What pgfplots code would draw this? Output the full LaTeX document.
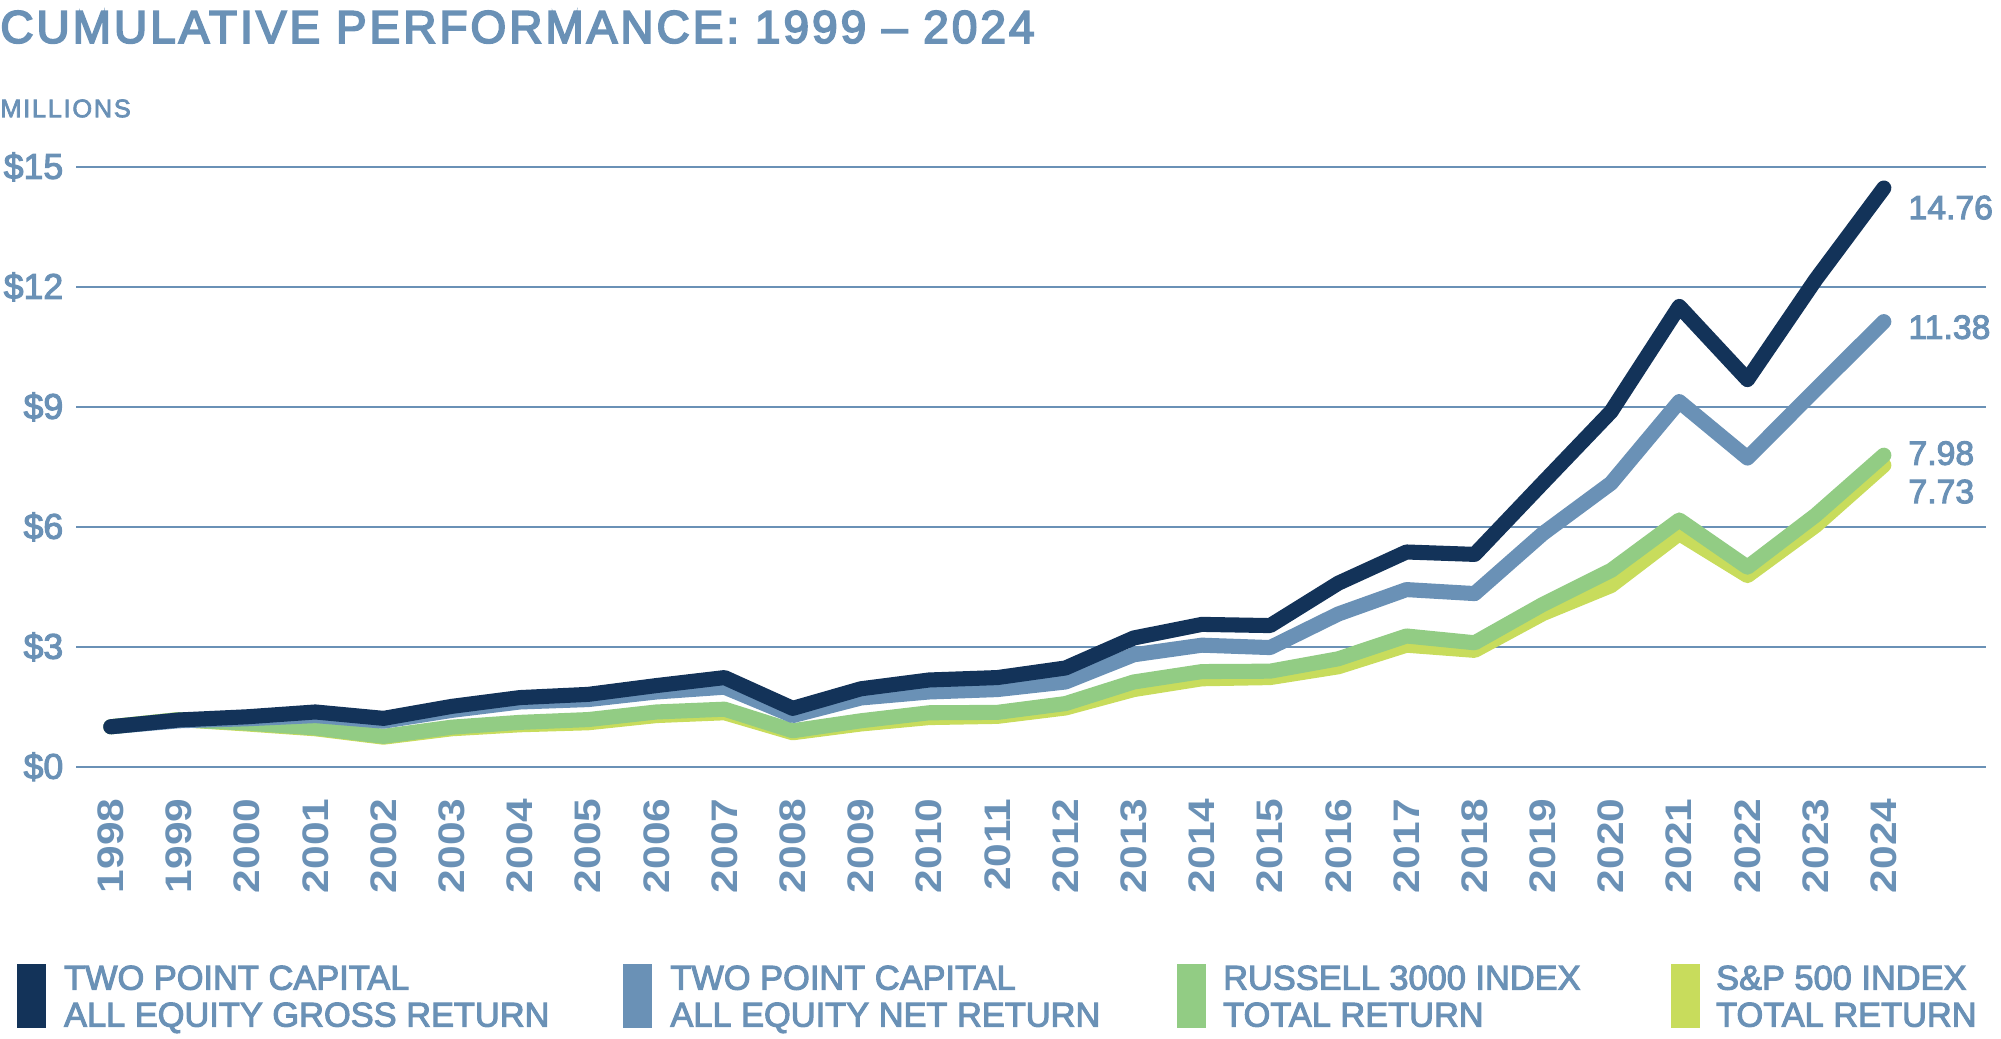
\documentclass[border=0pt]{standalone}
\usepackage{fontspec}
\usepackage{pgfplots}
\pgfplotsset{compat=1.18}
\setmainfont{Liberation Sans}
\newfontfamily\medf{Liberation Sans}[FakeBold=3]
\newfontfamily\milf{Liberation Sans}[FakeBold=3,LetterSpace=7]
\newfontfamily\titlef{Liberation Sans}[FakeBold=4,LetterSpace=6.7]
\newfontfamily\yearf{Liberation Sans}[FakeStretch=1.15]
\definecolor{tb}{RGB}{106,145,182}
\definecolor{navyc}{RGB}{19,51,89}
\definecolor{netc}{RGB}{106,145,182}
\definecolor{rusc}{RGB}{146,204,132}
\definecolor{spc}{RGB}{200,220,92}
\pgfplotstableread{
year gross net russell sp
1998 1.00 1.00 1.00 1.00
1999 1.17 1.15 1.18 1.18
2000 1.25 1.20 1.09 1.07
2001 1.37 1.28 0.97 0.95
2002 1.21 1.14 0.76 0.74
2003 1.51 1.41 0.99 0.95
2004 1.73 1.62 1.11 1.05
2005 1.81 1.68 1.18 1.10
2006 2.03 1.87 1.37 1.28
2007 2.23 1.99 1.44 1.35
2008 1.46 1.28 0.90 0.85
2009 1.95 1.72 1.15 1.07
2010 2.17 1.87 1.35 1.23
2011 2.23 1.93 1.36 1.26
2012 2.47 2.12 1.58 1.47
2013 3.22 2.80 2.12 1.93
2014 3.56 3.04 2.38 2.20
2015 3.53 2.98 2.39 2.23
2016 4.59 3.82 2.70 2.50
2017 5.37 4.43 3.27 3.04
2018 5.31 4.33 3.10 2.91
2019 7.10 5.83 4.06 3.83
2020 8.88 7.09 4.91 4.53
2021 11.51 9.13 6.17 5.83
2022 9.68 7.72 4.99 4.78
2023 12.18 9.43 6.29 6.03
2024 14.47 11.13 7.79 7.54
}\perftable
\begin{document}
\begin{tikzpicture}
\useasboundingbox (0,0) rectangle (942.6pt,489pt);
\begin{axis}[
  at={(36pt,127.8pt)}, anchor=south west, scale only axis,
  width=899.4pt, height=282.6pt,
  xmin=1997.496, xmax=2025.494, ymin=0, ymax=15,
  axis line style={draw=none},
  major tick length=0pt, tick style={draw=none},
  ytick={0,3,6,9,12,15},
  yticklabels={\$0,\$3,\$6,\$9,\$12,\$15},
  xtick={1998,1999,2000,2001,2002,2003,2004,2005,2006,2007,2008,2009,2010,2011,2012,2013,2014,2015,2016,2017,2018,2019,2020,2021,2022,2023,2024},
  xticklabels={1998,1999,2000,2001,2002,2003,2004,2005,2006,2007,2008,2009,2010,2011,2012,2013,2014,2015,2016,2017,2018,2019,2020,2021,2022,2023,2024},
  ymajorgrids, grid style={tb, line width=0.95pt},
  yticklabel style={font=\medf\fontsize{16.8pt}{18pt}\selectfont, text=tb, inner sep=0pt, anchor=east},
  yticklabel shift=6pt,
  xticklabel style={font=\yearf\bfseries\fontsize{17.4pt}{18pt}\selectfont, text=tb, rotate=90, anchor=east, inner sep=0pt},
  xticklabel shift=14.8pt,
  clip=false,
]
\addplot[spc, line width=7.1pt, line join=round, line cap=round] table[x=year,y=sp] {\perftable};
\addplot[rusc, line width=7.1pt, line join=round, line cap=round] table[x=year,y=russell] {\perftable};
\addplot[netc, line width=7.1pt, line join=round, line cap=round] table[x=year,y=net] {\perftable};
\addplot[navyc, line width=7.1pt, line join=round, line cap=round] table[x=year,y=gross] {\perftable};
\begin{scope}[every node/.style={anchor=base west, inner sep=0pt, text=tb, font=\medf\fontsize{15.9pt}{17pt}\selectfont}]
\node at (axis cs:2024.355,13.69) {14.76};
\node at (axis cs:2024.355,10.70) {11.38};
\node at (axis cs:2024.355,7.55) {7.98};
\node at (axis cs:2024.355,6.59) {7.73};
\end{scope}
\end{axis}
\node[anchor=base west, inner sep=0pt, text=tb, font=\titlef\fontsize{21.6pt}{24pt}\selectfont] at (0pt,468.8pt) {CUMULATIVE PERFORMANCE: 1999 – 2024};
\node[anchor=base west, inner sep=0pt, text=tb, font=\milf\fontsize{11.9pt}{13pt}\selectfont] at (0pt,433.8pt) {MILLIONS};
\begin{scope}[every node/.style={anchor=base west, inner sep=0pt, text=tb, font=\medf\fontsize{16.2pt}{17.7pt}\selectfont}]
\fill[navyc] (7.8pt,4.8pt) rectangle (21.6pt,34.8pt);
\fill[netc] (293.4pt,4.8pt) rectangle (307.2pt,34.8pt);
\fill[rusc] (554.4pt,4.8pt) rectangle (568.2pt,34.8pt);
\fill[spc] (787.2pt,4.8pt) rectangle (801pt,34.8pt);
\node at (30pt,22.8pt) {TWO POINT CAPITAL};
\node at (30pt,5.4pt) {ALL EQUITY GROSS RETURN};
\node at (315.6pt,22.8pt) {TWO POINT CAPITAL};
\node at (315.6pt,5.4pt) {ALL EQUITY NET RETURN};
\node at (576pt,22.8pt) {RUSSELL 3000 INDEX};
\node at (576pt,5.4pt) {TOTAL RETURN};
\node at (808.2pt,22.8pt) {S\&P 500 INDEX};
\node at (808.2pt,5.4pt) {TOTAL RETURN};
\end{scope}
\end{tikzpicture}
\end{document}
